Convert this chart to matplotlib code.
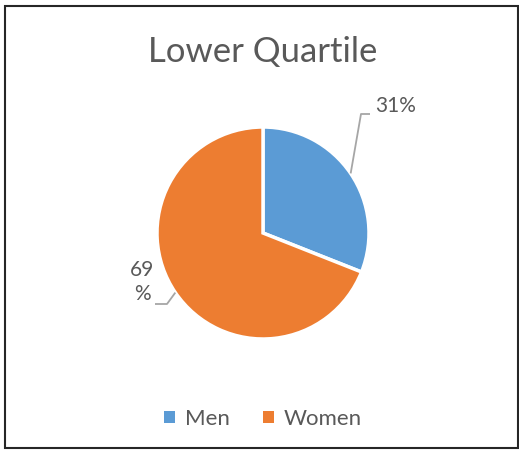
import numpy as np
import matplotlib
matplotlib.use("Agg")
import matplotlib.pyplot as plt
from matplotlib.patches import Rectangle

# Data
categories = ["Men", "Women"]
shares = [31, 69]
colors = ["#5B9BD5", "#ED7D31"]
title = "Lower Quartile"

plt.rcParams['font.family'] = ['Lato', 'DejaVu Sans']
txt = "#595959"

fig = plt.figure(figsize=(5.19, 4.5), dpi=100)
ax = fig.add_axes([0, 0, 1, 1])

# pie in pixel units (y measured from bottom)
cx, cy, r = 263, 450 - 233, 106
wedges, _ = ax.pie(shares, colors=colors, startangle=90, counterclock=False,
                   center=(cx, cy), radius=r, frame=True,
                   wedgeprops=dict(edgecolor="white", linewidth=2.5))
ax.set_xlim(0, 519)
ax.set_ylim(0, 450)
ax.set_aspect("equal")
ax.axis("off")

ax.text(263, 450 - 52, title, ha="center", va="center", fontsize=25, color=txt)

# data labels with leader lines
label_pts = [((361, 450 - 114), (370, 450 - 114), (375, 450 - 106), "31%", "left"),
             ((167, 450 - 304), (155, 450 - 304), (142, 450 - 282), "69\n%", "center")]
for w, (elbow, end, tpos, lab, ha) in zip(wedges, label_pts):
    mid = np.deg2rad((w.theta1 + w.theta2) / 2)
    start = (cx + r * np.cos(mid), cy + r * np.sin(mid))
    ax.plot([start[0], elbow[0], end[0]], [start[1], elbow[1], end[1]],
            color="#A6A6A6", lw=1.3, solid_capstyle="butt")
    ax.text(tpos[0], tpos[1], lab, ha=ha, va="center", fontsize=15, color=txt,
            linespacing=1.3)

# legend
leg = ax.legend(wedges, categories, loc="center", bbox_to_anchor=(263 / 519, 31 / 450),
                ncol=2, frameon=False, fontsize=16, handlelength=0.5, handleheight=0.5,
                handletextpad=0.45, columnspacing=1.5, labelcolor=txt)
for h in leg.legend_handles:
    h.set_edgecolor("none")

fig.patches.append(Rectangle((5, 2), 513, 442, transform=None, fill=False,
                             edgecolor="#262626", lw=1.5))

fig.savefig("out.png", dpi=100)
